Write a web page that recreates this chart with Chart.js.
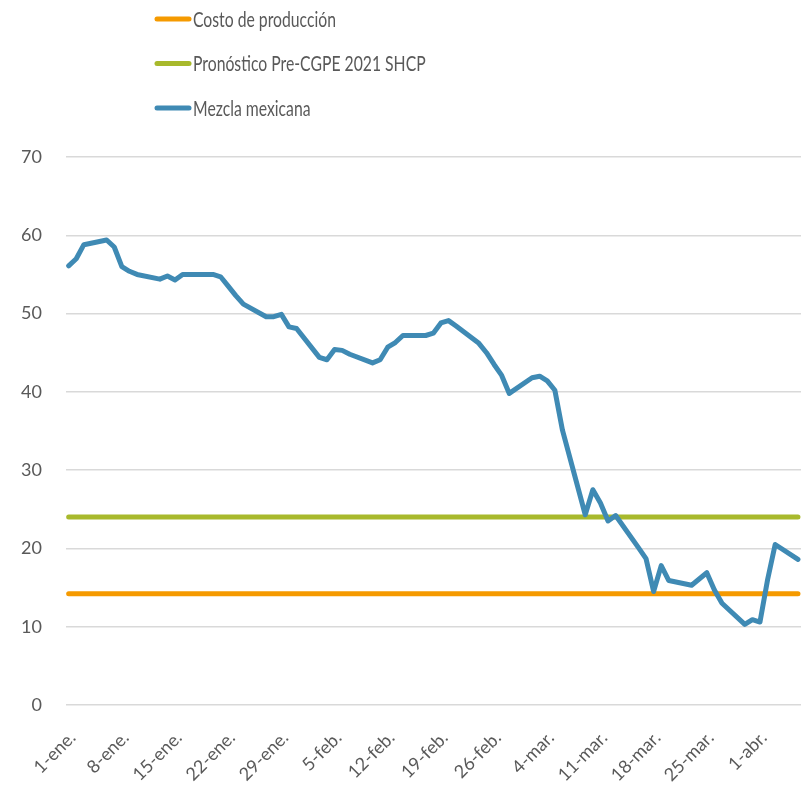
<!DOCTYPE html>
<html>
<head>
<meta charset="utf-8">
<script src="https://cdn.jsdelivr.net/npm/chart.js@4"></script>
<style>
  html, body { margin: 0; padding: 0; background: #ffffff; }
  #wrap { width: 807px; height: 789px; }
</style>
</head>
<body>
<div id="wrap"><canvas id="chart" width="807" height="789"></canvas></div>
<script>
// ---------- DATA ----------
const seriesNames = ["Costo de producción", "Pronóstico Pre-CGPE 2021 SHCP", "Mezcla mexicana"];

const tradeDates = [
  "2020-01-01","2020-01-02","2020-01-03","2020-01-06","2020-01-07","2020-01-08","2020-01-09","2020-01-10",
  "2020-01-13","2020-01-14","2020-01-15","2020-01-16","2020-01-17","2020-01-20","2020-01-21","2020-01-22",
  "2020-01-23","2020-01-24","2020-01-27","2020-01-28","2020-01-29","2020-01-30","2020-01-31",
  "2020-02-03","2020-02-04","2020-02-05","2020-02-06","2020-02-07","2020-02-10","2020-02-11","2020-02-12",
  "2020-02-13","2020-02-14","2020-02-17","2020-02-18","2020-02-19","2020-02-20","2020-02-21","2020-02-24",
  "2020-02-25","2020-02-26","2020-02-27","2020-02-28",
  "2020-03-02","2020-03-03","2020-03-04","2020-03-05","2020-03-06","2020-03-09","2020-03-10","2020-03-11",
  "2020-03-12","2020-03-13","2020-03-16","2020-03-17","2020-03-18","2020-03-19","2020-03-20","2020-03-23",
  "2020-03-24","2020-03-25","2020-03-26","2020-03-27","2020-03-30","2020-03-31",
  "2020-04-01","2020-04-02","2020-04-03","2020-04-06"
];

const mezclaMexicana = [
  56.1, 57.0, 58.8, 59.4, 58.5, 56.0, 55.4, 55.0,
  54.4, 54.8, 54.3, 55.0, 55.0, 55.0, 54.7, 53.5,
  52.3, 51.2, 49.6, 49.6, 49.9, 48.3, 48.1,
  44.4, 44.1, 45.4, 45.3, 44.8, 43.7, 44.1, 45.7,
  46.3, 47.2, 47.2, 47.5, 48.8, 49.1, 48.4, 46.2,
  45.0, 43.5, 42.1, 39.8,
  41.8, 42.0, 41.4, 40.2, 35.1, 24.3, 27.5, 25.8,
  23.5, 24.2, 20.1, 18.7, 14.5, 17.8, 15.9, 15.3,
  16.1, 16.9, 14.7, 13.0, 10.3, 10.9,
  10.6, 16.0, 20.5, 18.6
];

const costoProduccion = [14.2, 14.2];       // flat reference line, first to last date
const pronosticoSHCP  = [24.0, 24.0];       // flat reference line, first to last date

const xTickDates  = ["2020-01-01","2020-01-08","2020-01-15","2020-01-22","2020-01-29","2020-02-05","2020-02-12",
                     "2020-02-19","2020-02-26","2020-03-04","2020-03-11","2020-03-18","2020-03-25","2020-04-01"];
const xTickLabels = ["1-ene.","8-ene.","15-ene.","22-ene.","29-ene.","5-feb.","12-feb.",
                     "19-feb.","26-feb.","4-mar.","11-mar.","18-mar.","25-mar.","1-abr."];
const yTickValues = [0, 10, 20, 30, 40, 50, 60, 70];

// ---------- helpers ----------
const DAY = 86400000;
const t0 = Date.parse(tradeDates[0]);
const dayOf = s => Math.round((Date.parse(s) - t0) / DAY);
const lastDay = dayOf(tradeDates[tradeDates.length - 1]);
const xTickDays = xTickDates.map(dayOf);

const COLORS = { costo: "#F59A00", pronostico: "#A8B92C", mezcla: "#3F8AB4", text: "#595959", grid: "#D9D9D9" };
const FONT = "Lato, 'Open Sans', sans-serif";

// stacked legend (one entry per row, above the plot)
const stackedLegend = {
  id: "stackedLegend",
  afterDraw(chart) {
    const ctx = chart.ctx;
    ctx.save();
    chart.data.datasets.forEach((ds, i) => {
      const y = 19 + i * 44.5;
      ctx.strokeStyle = ds.borderColor;
      ctx.lineWidth = 5;
      ctx.lineCap = "round";
      ctx.beginPath();
      ctx.moveTo(157, y);
      ctx.lineTo(189, y);
      ctx.stroke();
      ctx.fillStyle = COLORS.text;
      ctx.font = "21px " + FONT;
      ctx.textAlign = "left";
      ctx.textBaseline = "middle";
      const w = ctx.measureText(ds.label).width;
      ctx.fillText(ds.label, 193, y + 1, w * 0.75);
    });
    ctx.restore();
  }
};

new Chart(document.getElementById("chart"), {
  type: "line",
  data: {
    datasets: [
      {
        label: seriesNames[0],
        data: [0, lastDay].map((d, i) => ({ x: d, y: costoProduccion[i] })),
        borderColor: COLORS.costo, backgroundColor: COLORS.costo,
        borderWidth: 5, borderCapStyle: "round", pointRadius: 0, order: 2
      },
      {
        label: seriesNames[1],
        data: [0, lastDay].map((d, i) => ({ x: d, y: pronosticoSHCP[i] })),
        borderColor: COLORS.pronostico, backgroundColor: COLORS.pronostico,
        borderWidth: 5, borderCapStyle: "round", pointRadius: 0, order: 2
      },
      {
        label: seriesNames[2],
        data: tradeDates.map((s, i) => ({ x: dayOf(s), y: mezclaMexicana[i] })),
        borderColor: COLORS.mezcla, backgroundColor: COLORS.mezcla,
        borderWidth: 5, borderCapStyle: "round", borderJoinStyle: "round",
        pointRadius: 0, tension: 0, order: 0
      }
    ]
  },
  options: {
    responsive: false,
    animation: false,
    devicePixelRatio: 1,
    layout: { padding: { top: 157, right: 6, left: 0, bottom: 0 } },
    plugins: { legend: { display: false }, tooltip: { enabled: false } },
    scales: {
      x: {
        type: "linear",
        min: -0.35,
        max: lastDay + 0.4,
        afterBuildTicks: scale => { scale.ticks = xTickDays.map(v => ({ value: v })); },
        afterFit: scale => { scale.height = 84; },
        grid: { display: false },
        border: { display: false },
        ticks: {
          autoSkip: false, minRotation: 45, maxRotation: 45, padding: 14, labelOffset: 4,
          color: COLORS.text, font: { family: FONT, size: 18 },
          callback: (v, i) => xTickLabels[i]
        }
      },
      y: {
        min: 0, max: 70,
        afterBuildTicks: scale => { scale.ticks = yTickValues.map(v => ({ value: v })); },
        afterFit: scale => { scale.width = 66; },
        grid: { color: COLORS.grid, lineWidth: 1.4, drawTicks: false },
        border: { display: false },
        ticks: { padding: 24, color: COLORS.text, font: { family: FONT, size: 18 } }
      }
    }
  },
  plugins: [stackedLegend]
});
</script>
</body>
</html>
